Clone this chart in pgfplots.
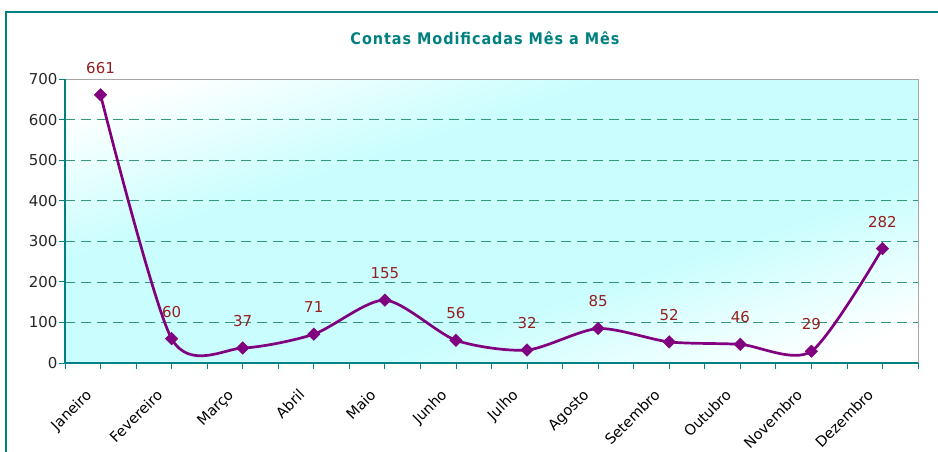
\documentclass[border=0pt]{standalone}
\usepackage{fontspec}
\setmainfont{DejaVu Sans}
\newfontfamily\titlefont[LetterSpace=6]{DejaVu Sans Condensed}
\usepackage{pgfplots}
\pgfplotsset{compat=1.18}
\definecolor{frameteal}{RGB}{0,128,128}
\definecolor{gridgreen}{RGB}{51,153,120}
\definecolor{bgcyan}{RGB}{202,254,254}
\definecolor{linepurple}{RGB}{128,0,128}
\definecolor{labelred}{RGB}{150,30,30}
% white towards the top left and bottom right corners
\pgfdeclareverticalshading{bgshade}{100bp}{color(0bp)=(white); color(19bp)=(white);
  color(37bp)=(bgcyan); color(63bp)=(bgcyan); color(81bp)=(white); color(100bp)=(white)}

\begin{document}
\begin{tikzpicture}
  \useasboundingbox (0,0) rectangle (938pt,-451pt);
  \draw[frameteal, line width=2pt] (6pt,-452pt) -- (6pt,-12pt) -- (939pt,-12pt);
  \node[font=\titlefont\bfseries\fontsize{16}{19}\selectfont, text=frameteal]
    at (485pt,-38pt) {Contas Modificadas Mês a Mês};
  \shade[transform canvas={shift={(65pt,-363pt)}, xscale=3.0035},
    shading=bgshade, shading angle=45]
    (0,0) rectangle (284pt,284pt);

  \begin{axis}[
    at={(65pt,-363pt)}, anchor=south west,
    scale only axis, width=853pt, height=284pt,
    xmin=0, xmax=12, ymin=0, ymax=700,
    ytick={0,100,...,700},
    xtick={0.5,1.5,...,11.5},
    xticklabels={Janeiro,Fevereiro,Março,Abril,Maio,Junho,Julho,Agosto,Setembro,Outubro,Novembro,Dezembro},
    extra x ticks={0,1,...,12},
    extra x tick labels={},
    extra x tick style={grid=none},
    tick align=outside,
    major tick length=6pt,
    tick style={frameteal, line width=0.8pt},
    xtick pos=bottom, ytick pos=left,
    ymajorgrids,
    grid style={gridgreen, dash pattern=on 10pt off 6pt, line width=0.6pt},
    axis line style={gray!70, line width=1pt},
    tick label style={font=\fontsize{15}{17}\selectfont},
    yticklabel style={text=black!85, xshift=2pt},
    xticklabel style={font=\fontsize{14.5}{17}\selectfont, xshift=-16pt, yshift=-19pt, rotate=45, anchor=north east, inner sep=0pt},
    /pgf/number format/assume math mode=true,
    nodes near coords,
    every node near coord/.append style={font=\fontsize{15}{17}\selectfont, text=labelred, anchor=center, yshift=27pt},
    clip=false,
  ]
    \addplot[linepurple, line width=2.7pt, smooth, tension=0.45,
      mark=square*, mark size=4.4pt, mark options={rotate=45, fill=linepurple, line width=0.5pt}]
      coordinates {
        (0.5,661) (1.5,60) (2.5,37) (3.5,71) (4.5,155) (5.5,56)
        (6.5,32) (7.5,85) (8.5,52) (9.5,46) (10.5,29) (11.5,282)
      };
    \draw[frameteal, line width=1.2pt] (axis cs:0,700) -- (axis cs:0,0) -- (axis cs:12,0);
  \end{axis}
\end{tikzpicture}
\end{document}
